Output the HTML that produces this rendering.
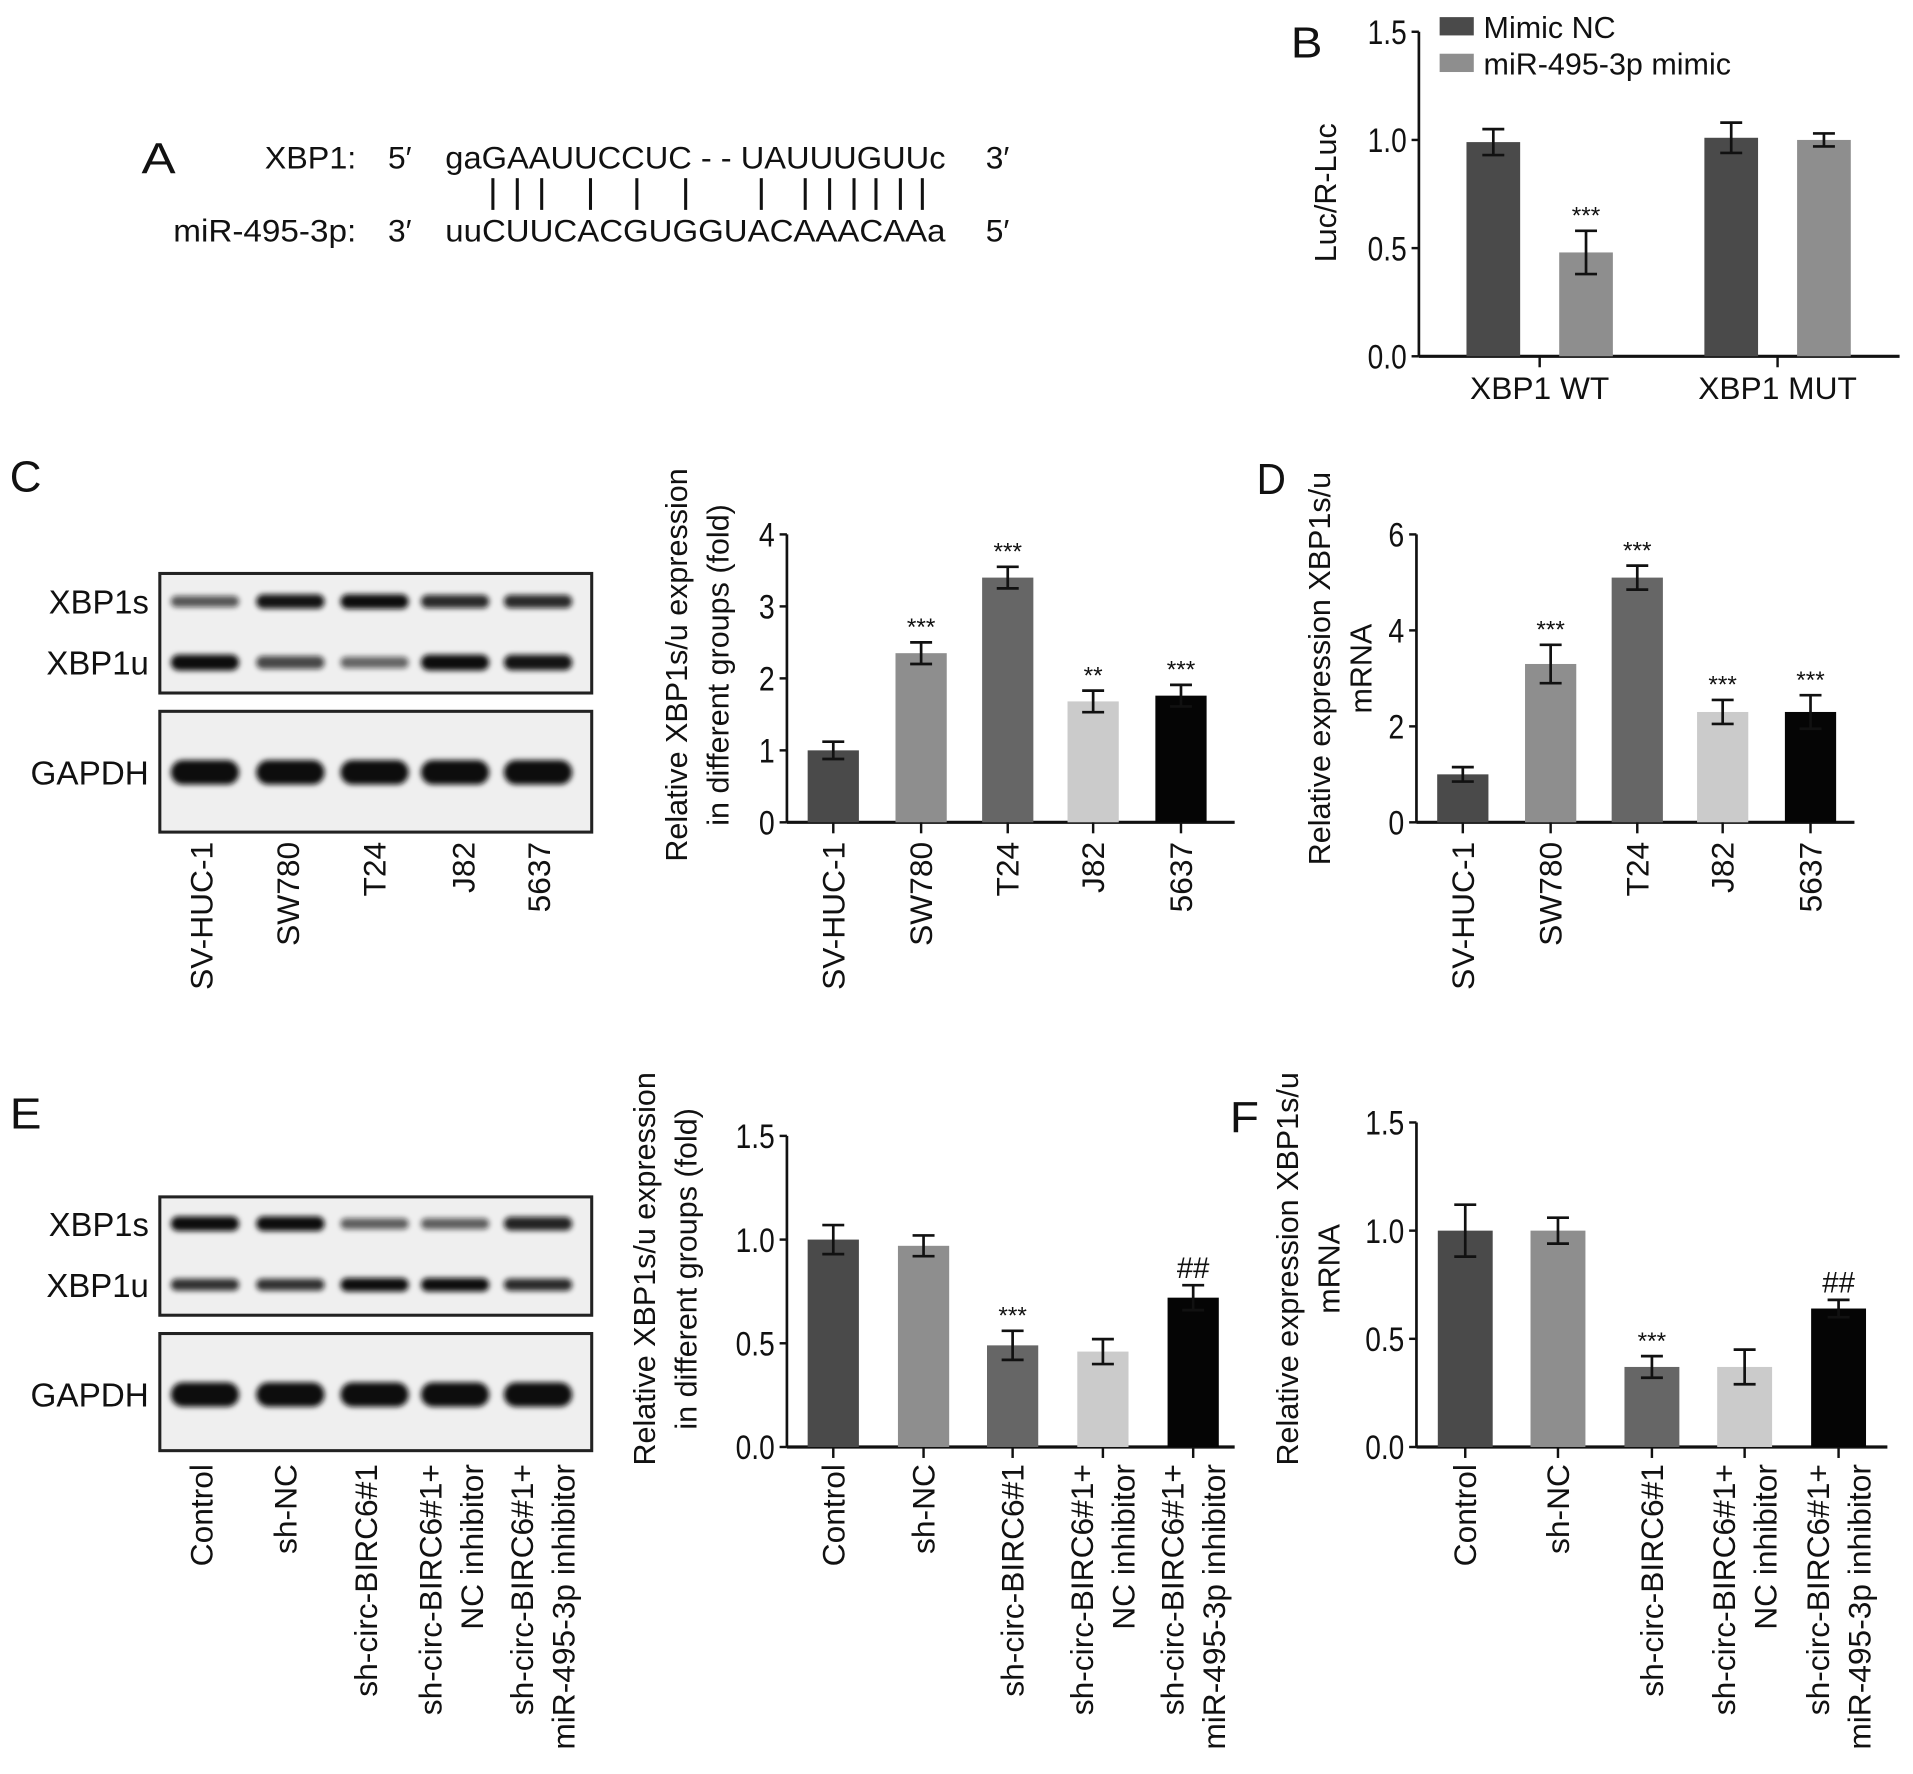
<!DOCTYPE html>
<html><head><meta charset="utf-8"><style>
html,body{margin:0;padding:0;background:#fff}
svg{display:block}
text{font-family:"Liberation Sans",sans-serif;fill:#111}
</style></head><body>
<svg id="fig" width="1913" height="1774" viewBox="0 0 1568 1454" xmlns="http://www.w3.org/2000/svg">
<defs><filter id="bl" x="-20%" y="-100%" width="140%" height="300%"><feGaussianBlur stdDeviation="2.2"/></filter></defs>
<g font-size="26">
<text x="116" y="142" font-size="36" textLength="28" lengthAdjust="spacingAndGlyphs">A</text>
<text x="292" y="138" text-anchor="end" textLength="75" lengthAdjust="spacingAndGlyphs">XBP1:</text>
<text x="318" y="138">5′</text>
<text x="365" y="138" textLength="410" lengthAdjust="spacingAndGlyphs">gaGAAUUCCUC - - UAUUUGUUc</text>
<text x="808" y="138">3′</text>
<g stroke="#111" stroke-width="2.5">
<line x1="404" y1="146" x2="404" y2="172"/><line x1="424" y1="146" x2="424" y2="172"/><line x1="444" y1="146" x2="444" y2="172"/><line x1="484" y1="146" x2="484" y2="172"/><line x1="522" y1="146" x2="522" y2="172"/><line x1="562" y1="146" x2="562" y2="172"/><line x1="624" y1="146" x2="624" y2="172"/><line x1="660" y1="146" x2="660" y2="172"/><line x1="680" y1="146" x2="680" y2="172"/><line x1="700" y1="146" x2="700" y2="172"/><line x1="718" y1="146" x2="718" y2="172"/><line x1="738" y1="146" x2="738" y2="172"/><line x1="756" y1="146" x2="756" y2="172"/>
</g>
<text x="292" y="198" text-anchor="end" textLength="150" lengthAdjust="spacingAndGlyphs">miR-495-3p:</text>
<text x="318" y="198">3′</text>
<text x="365" y="198" textLength="410" lengthAdjust="spacingAndGlyphs">uuCUUCACGUGGUACAAACAAa</text>
<text x="808" y="198">5′</text>
</g>
<g id="blots"></g>
<g id="charts"></g>
</svg>
<script>
// ===== Chart data =====
const bCats = ["XBP1 WT", "XBP1 MUT"];
const bSeries = ["Mimic NC", "miR-495-3p mimic"];
const bNC = [0.99, 1.01];
const bNCErr = [0.06, 0.07];
const bMimic = [0.48, 1.0];
const bMimicErr = [0.10, 0.03];
const bMimicSig = ["***", ""];
const bTicks = ["0.0", "0.5", "1.0", "1.5"];

const cCats = ["SV-HUC-1", "SW780", "T24", "J82", "5637"];
const cVals = [1.0, 2.35, 3.4, 1.68, 1.76];
const cErr = [0.12, 0.15, 0.15, 0.15, 0.15];
const cSig = ["", "***", "***", "**", "***"];
const cTicks = ["0", "1", "2", "3", "4"];

const dVals = [1.0, 3.3, 5.1, 2.3, 2.3];
const dErr = [0.15, 0.4, 0.25, 0.25, 0.35];
const dSig = ["", "***", "***", "***", "***"];
const dTicks = ["0", "2", "4", "6"];

const eCats = [["Control"], ["sh-NC"], ["sh-circ-BIRC6#1"], ["sh-circ-BIRC6#1+", "NC inhibitor"], ["sh-circ-BIRC6#1+", "miR-495-3p inhibitor"]];
const eVals = [1.0, 0.97, 0.49, 0.46, 0.72];
const eErr = [0.07, 0.05, 0.07, 0.06, 0.06];
const eSig = ["", "", "***", "", "##"];
const eTicks = ["0.0", "0.5", "1.0", "1.5"];

const fVals = [1.0, 1.0, 0.37, 0.37, 0.64];
const fErr = [0.12, 0.06, 0.05, 0.08, 0.04];
const fSig = ["", "", "***", "", "##"];

const barColors = ["#4a4a4a", "#8e8e8e", "#666666", "#cbcbcb", "#050505"];

const NS = "http://www.w3.org/2000/svg";
function mk(parent, tag, attrs, txt) {
  const el = document.createElementNS(NS, tag);
  for (const k in attrs) el.setAttribute(k, attrs[k]);
  if (txt !== undefined) el.textContent = txt;
  parent.appendChild(el);
  return el;
}
const charts = document.getElementById("charts");

function axes(g, x0, y0, yTop, xEnd, ticks) {
  const n = ticks.length - 1;
  const ax = mk(g, "line", {x1: x0, y1: y0, x2: x0, y2: yTop, stroke: "#111", "stroke-width": 2.2});
  
  
  const xx = mk(g, "line", {x1: x0, y1: y0, x2: xEnd, y2: y0, stroke: "#111", "stroke-width": 2.6});
  
  
  ticks.forEach((t, i) => {
    const y = y0 - (y0 - yTop) * i / n;
    mk(g, "line", {x1: x0 - 6, y1: y, x2: x0, y2: y, stroke: "#111", "stroke-width": 2});
    const len = t.replace(".", "").length * 13 + (t.indexOf(".") >= 0 ? 6 : 0);
    const tl = mk(g, "text", {x: x0 - 10, y: y + 10, "text-anchor": "end", "font-size": 28, textLength: len, lengthAdjust: "spacingAndGlyphs"}, t);
    
    
  });
}
function bar(g, cx, w, v, e, sig, color, yS, y0, name) {
  const y = yS(v);
  const r = mk(g, "rect", {x: cx - w / 2, y: y, width: w, height: y0 - y, fill: color});
  
  
  const yt = yS(v + e), yb = yS(v - e);
  const eb = mk(g, "path", {d: `M${cx},${yt}V${yb}M${cx-9},${yt}H${cx+9}M${cx-9},${yb}H${cx+9}`, stroke: "#111", "stroke-width": 2.2, fill: "none"});
  
  
  if (sig) {
    const s = mk(g, "text", {x: cx, y: yt - 6, "text-anchor": "middle", "font-size": sig[0] === "#" ? 24 : 20}, sig);
    
    
  }
}
function rotLabels(g, xs, yTop, cats, fs) {
  xs.forEach((cx, i) => {
    const lines = Array.isArray(cats[i]) ? cats[i] : [cats[i]];
    const t = mk(g, "text", {transform: `translate(${cx},${yTop}) rotate(-90)`, "text-anchor": "end", "font-size": fs});
    
    
    lines.forEach((ln, j) => {
      const off = (j - (lines.length - 1) / 2) * 34 + 9;
      mk(t, "tspan", {x: 0, y: off}, ln);
    });
  });
}
function ytitle(g, x, cy, lines, fs) {
  lines.forEach((ln, j) => {
    const t = mk(g, "text", {transform: `translate(${x + j * 34},${cy}) rotate(-90)`, "text-anchor": "middle", "font-size": fs}, ln);
    
    
  });
}

// ---- Panel B ----
(function () {
  const g = mk(charts, "g", {});
  
  
  const x0 = 1163, y0 = 292, yTop = 26, max = 1.5;
  const yS = v => y0 - (y0 - yTop) * v / max;
  const pl = mk(g, "text", {x: 1058, y: 47, "font-size": 36, textLength: 26, lengthAdjust: "spacingAndGlyphs"}, "B");
  
  
  axes(g, x0, y0, yTop, 1557, bTicks);
  const groupC = [1262, 1457];
  bCats.forEach((c, i) => {
    bar(g, groupC[i] - 38, 44, bNC[i], bNCErr[i], "", "#4a4a4a", yS, y0, "bar-mimic-nc");
    bar(g, groupC[i] + 38, 44, bMimic[i], bMimicErr[i], bMimicSig[i], "#8e8e8e", yS, y0, "bar-mir-mimic");
    mk(g, "line", {x1: groupC[i], y1: y0, x2: groupC[i], y2: y0 + 9, stroke: "#111", "stroke-width": 2});
    const t = mk(g, "text", {x: groupC[i], y: 327, "text-anchor": "middle", "font-size": 26}, c);
    
    
  });
  ytitle(g, 1095, 158, ["Luc/R-Luc"], 25);
  const cols = ["#4a4a4a", "#8e8e8e"];
  bSeries.forEach((s, i) => {
    const le = mk(g, "g", {});
    
    
    mk(le, "rect", {x: 1180, y: 14 + i * 30, width: 28, height: 15, fill: cols[i]});
    mk(le, "text", {x: 1216, y: 31 + i * 30, "font-size": 25}, s);
  });
})();

function fiveBar(name, label, lx, ly, x0, xEnd, y0, yTop, max, ticks, xs, w, vals, errs, sigs, cats, labTop, titleX, titleCy, titleLines) {
  const g = mk(charts, "g", {});
  
  
  const yS = v => y0 - (y0 - yTop) * v / max;
  if (label) {
    const pl = mk(g, "text", {x: lx, y: ly, "font-size": 36, textLength: 24, lengthAdjust: "spacingAndGlyphs"}, label);
    
    
  }
  axes(g, x0, y0, yTop, xEnd, ticks);
  xs.forEach((cx, i) => {
    bar(g, cx, w, vals[i], errs[i], sigs[i], barColors[i], yS, y0, 'bar');
    mk(g, "line", {x1: cx, y1: y0, x2: cx, y2: y0 + 9, stroke: "#111", "stroke-width": 2});
  });
  rotLabels(g, xs, labTop, cats, 26);
  ytitle(g, titleX, titleCy, titleLines, 25);
}
fiveBar("chart-c", "", 0, 0, 645, 1012, 674, 438, 4, cTicks, [683, 755, 826, 896, 968], 42, cVals, cErr, cSig, cCats, 690, 563, 545, ["Relative XBP1s/u expression", "in different groups (fold)"]);
fiveBar("chart-d", "D", 1030, 405, 1161, 1520, 674, 438, 6, dTicks, [1199, 1271, 1342, 1412, 1484], 42, dVals, dErr, dSig, cCats, 690, 1090, 548, ["Relative expression XBP1s/u", "mRNA"]);
fiveBar("chart-e", "", 0, 0, 645, 1012, 1186, 931, 1.5, eTicks, [683, 757, 830, 904, 978], 42, eVals, eErr, eSig, eCats, 1200, 537, 1040, ["Relative XBP1s/u expression", "in different groups (fold)"]);
fiveBar("chart-f", "F", 1008, 928, 1161, 1547, 1186, 920, 1.5, eTicks, [1201, 1277, 1354, 1430, 1507], 45, fVals, fErr, fSig, eCats, 1200, 1064, 1040, ["Relative expression XBP1s/u", "mRNA"]);

// ---- Western blots ----
const blotG = document.getElementById("blots");
const cLanes = [168, 238, 307, 373, 441];
const cS = [0.5, 0.95, 1.0, 0.8, 0.8];
const cU = [1.0, 0.6, 0.4, 1.0, 0.95];
const eS = [1.0, 1.0, 0.45, 0.45, 0.85];
const eU = [0.75, 0.75, 1.0, 1.0, 0.8];
function blot(name, label, ly, boxes, rows, cats, labXs, labTop) {
  const g = mk(blotG, "g", {});
  
  
  const pl = mk(g, "text", {x: 8, y: ly, "font-size": 36, textLength: 26, lengthAdjust: "spacingAndGlyphs"}, label);
  
  
  boxes.forEach(b => {
    const r = mk(g, "rect", {x: 131, y: b[0], width: 354, height: b[1] - b[0], fill: "#efefef", stroke: "#222", "stroke-width": 2.5});
    
    
  });
  rows.forEach(rw => {
    const t = mk(g, "text", {x: 122, y: rw.y + 10, "text-anchor": "end", "font-size": 27, textLength: rw.len, lengthAdjust: "spacingAndGlyphs"}, rw.name);
    
    
    cLanes.forEach((cx, i) => {
      const s = rw.s[i];
      const h = rw.h * (0.55 + 0.45 * s);
      const b = mk(g, "rect", {x: cx - 28, y: rw.y - h / 2, width: 56, height: h, rx: h / 2, fill: "#111", opacity: 0.35 + 0.65 * s, filter: "url(#bl)"});
      
      
    });
  });
  rotLabels(g, labXs, labTop, cats, 26);
}
blot("blot-c", "C", 403, [[470, 568], [583, 682]],
  [{name: "XBP1s", len: 82, y: 493, h: 12, s: cS}, {name: "XBP1u", len: 84, y: 543, h: 13, s: cU}, {name: "GAPDH", len: 97, y: 633, h: 20, s: [1, 1, 1, 1, 1]}], cCats, [165, 236, 307, 380, 442], 690);
blot("blot-e", "E", 925, [[981, 1078], [1093, 1189]],
  [{name: "XBP1s", len: 82, y: 1003, h: 12, s: eS}, {name: "XBP1u", len: 84, y: 1053, h: 11, s: eU}, {name: "GAPDH", len: 97, y: 1143, h: 20, s: [1, 1, 1, 1, 1]}], eCats, [165, 234, 300, 370, 445], 1200);
</script>
</body></html>
